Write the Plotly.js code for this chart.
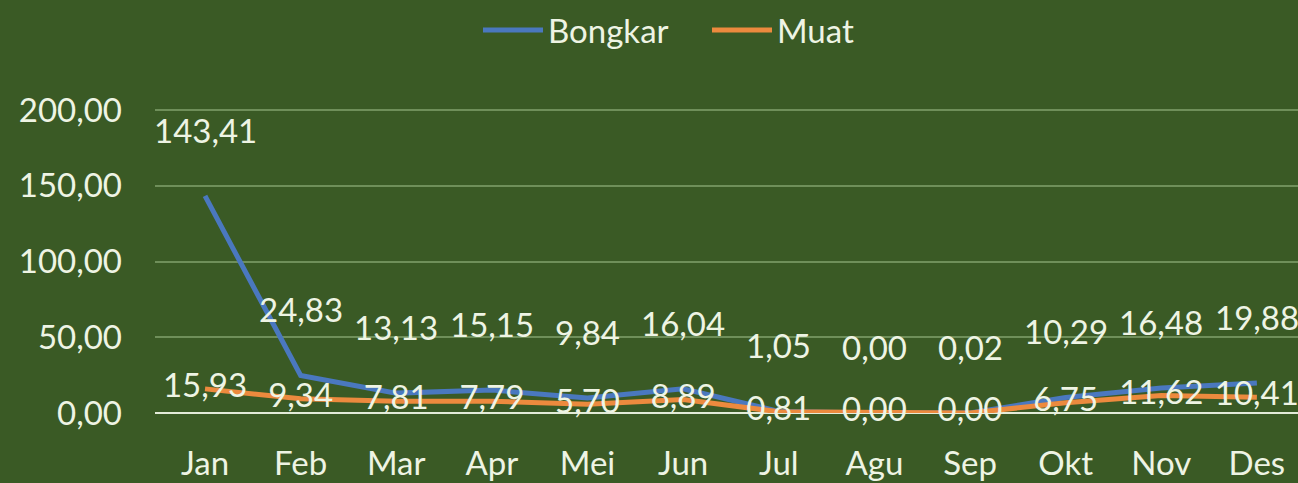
<!DOCTYPE html>
<html>
<head>
<meta charset="utf-8">
<script src="https://cdn.plot.ly/plotly-3.0.1.min.js"></script>
<style>
  html, body { margin: 0; padding: 0; background: #3a5a25; }
  #chart { width: 1298px; height: 483px; }
</style>
</head>
<body>
<div id="chart"></div>
<script>
const months = ['Jan', 'Feb', 'Mar', 'Apr', 'Mei', 'Jun', 'Jul', 'Agu', 'Sep', 'Okt', 'Nov', 'Des'];
const bongkar = [143.41, 24.83, 13.13, 15.15, 9.84, 16.04, 1.05, 0.00, 0.02, 10.29, 16.48, 19.88];
const muat = [15.93, 9.34, 7.81, 7.79, 5.70, 8.89, 0.81, 0.00, 0.00, 6.75, 11.62, 10.41];
const yTicks = [0, 50, 100, 150, 200];

const fmt = v => v.toFixed(2).replace('.', ',');
const FONT = 'Lato, "Open Sans", sans-serif';
const TXT = '#eef4e4';
const FS = 33;

const traces = [
  {
    x: months, y: bongkar, name: 'Bongkar', type: 'scatter', mode: 'lines',
    line: { color: '#4a78bf', width: 5 }
  },
  {
    x: months, y: muat, name: 'Muat', type: 'scatter', mode: 'lines+text',
    line: { color: '#ec8a3e', width: 5 },
    text: muat.map(fmt), textposition: 'middle center',
    textfont: { family: FONT, size: FS, color: TXT },
    cliponaxis: false
  }
];

const annotations = months.map((m, i) => ({
  x: m, y: bongkar[i], xref: 'x', yref: 'y',
  text: fmt(bongkar[i]), showarrow: false, yshift: 66,
  font: { family: FONT, size: FS, color: TXT }
}));

const layout = {
  width: 1298, height: 483,
  paper_bgcolor: '#3a5a25', plot_bgcolor: '#3a5a25',
  margin: { l: 155, r: 0, t: 109, b: 70 },
  font: { family: FONT, size: FS, color: TXT },
  showlegend: true,
  legend: {
    orientation: 'h', x: 478 / 1298, xanchor: 'left', xref: 'container',
    y: 0.996, yref: 'container', yanchor: 'top',
    font: { family: FONT, size: FS, color: TXT },
    bgcolor: 'rgba(0,0,0,0)', itemwidth: 60, tracegroupgap: 0,
    entrywidth: 154, entrywidthmode: 'pixels'
  },
  xaxis: {
    type: 'category', range: [-0.523, 11.43],
    showgrid: false, zeroline: false, showline: false,
    ticks: '', ticklabelstandoff: 28,
    tickfont: { family: FONT, size: FS, color: TXT }
  },
  yaxis: {
    range: [0, 200.8], tickvals: yTicks, ticktext: yTicks.map(fmt),
    showgrid: true, gridcolor: '#6f8f5a', gridwidth: 2,
    zeroline: true, zerolinecolor: '#e3ecd9', zerolinewidth: 2,
    showline: false, ticks: '', ticklabelstandoff: 32,
    tickfont: { family: FONT, size: FS, color: TXT }
  },
  annotations: annotations
};

Plotly.newPlot('chart', traces, layout, { staticPlot: true, displayModeBar: false });
</script>
</body>
</html>
